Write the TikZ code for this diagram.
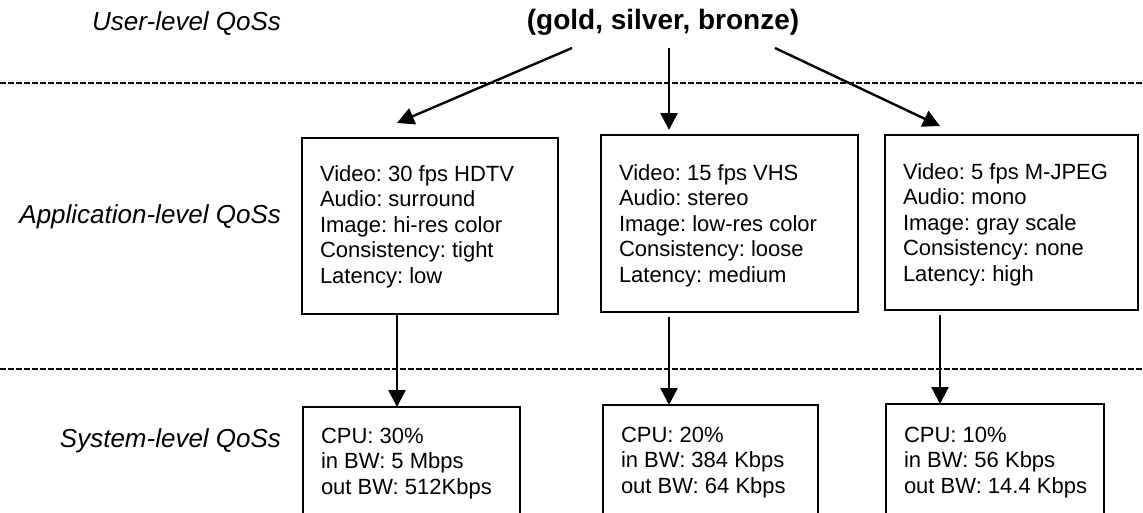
\documentclass[tikz,border=0pt]{standalone}
\usepackage{fontspec}
\setmainfont{Liberation Sans}
\usetikzlibrary{arrows.meta,calc}
\frenchspacing
\begin{document}
\begin{tikzpicture}[x=1pt,y=-1pt,
  every node/.style={inner sep=0pt, outer sep=0pt},
  levellabel/.style={font=\fontsize{26}{30}\selectfont\itshape, anchor=base east},
  classes/.style={font=\fontsize{28}{32}\selectfont\bfseries, anchor=base},
  qosbox/.style={draw, line width=2.5pt, anchor=north west},
  % multi-line text is placed by the baseline of its last line
  boxtext/.style={font=\fontsize{22}{25.5}\selectfont, align=left, anchor=base west},
  flow/.style={line width=2.4pt, -{Triangle[length=17pt,width=17pt]}},
  levelsep/.style={line width=2.3pt, dash pattern=on 5.5pt off 2.5pt}]

\clip (0,0) rectangle (1143,512);

% level names
\node[levellabel] (ul) at (281,30) {User-level QoSs};
\node[levellabel] (al) at (281,223) {Application-level QoSs};
\node[levellabel] (sl) at (281,447) {System-level QoSs};
\node[classes] (cls) at (663,29) {(gold, silver, bronze)};

% separators between levels
\draw[levelsep] (0,83) -- (1143,83);
\draw[levelsep] (0,369) -- (1143,369);

% application-level boxes
\node[qosbox, minimum width=256pt, minimum height=176pt] (a1) at (302,138) {};
\node[qosbox, minimum width=257pt, minimum height=177pt] (a2) at (601,135) {};
\node[qosbox, minimum width=253pt, minimum height=175pt] (a3) at (885,135) {};
\node[boxtext] (a1t) at (320,283) {Video: 30 fps HDTV\\Audio: surround\\Image: hi-res color\\Consistency: tight\\Latency: low};
\node[boxtext] (a2t) at (619,282) {Video: 15 fps VHS\\Audio: stereo\\Image: low-res color\\Consistency: loose\\Latency: medium};
\node[boxtext] (a3t) at (903,281) {Video: 5 fps M-JPEG\\Audio: mono\\Image: gray scale\\Consistency: none\\Latency: high};

% system-level boxes (open towards the bottom edge)
\node[qosbox, minimum width=217pt, minimum height=140pt] (s1) at (303,407) {};
\node[qosbox, minimum width=215pt, minimum height=140pt] (s2) at (603,405) {};
\node[qosbox, minimum width=218pt, minimum height=140pt] (s3) at (886,404) {};
\node[boxtext] (s1t) at (321,494) {CPU: 30\%\\in BW: 5 Mbps\\out BW: 512Kbps};
\node[boxtext] (s2t) at (621,493) {CPU: 20\%\\in BW: 384 Kbps\\out BW: 64 Kbps};
\node[boxtext] (s3t) at (904,493) {CPU: 10\%\\in BW: 56 Kbps\\out BW: 14.4 Kbps};

% mapping user classes to application QoS
\coordinate (o1) at (572,48);
\coordinate (o2) at (669,48);
\coordinate (o3) at (775,48);
\draw[flow] (o1) -- ($(a1.north west)+(95,-15)$);
\draw[flow] (o2) -- ($(a2.north west)+(68,-5)$);
\draw[flow] (o3) -- ($(a3.north west)+(55,-9)$);

% mapping application QoS to system resources
\draw[flow] ($(a1.south west)+(95,0)$) -- ($(s1.north west)+(94,0)$);
\draw[flow] ($(a2.south west)+(68,5)$) -- ($(s2.north west)+(66,0)$);
\draw[flow] ($(a3.south west)+(55,5)$) -- ($(s3.north west)+(54,0)$);
\end{tikzpicture}
\end{document}
